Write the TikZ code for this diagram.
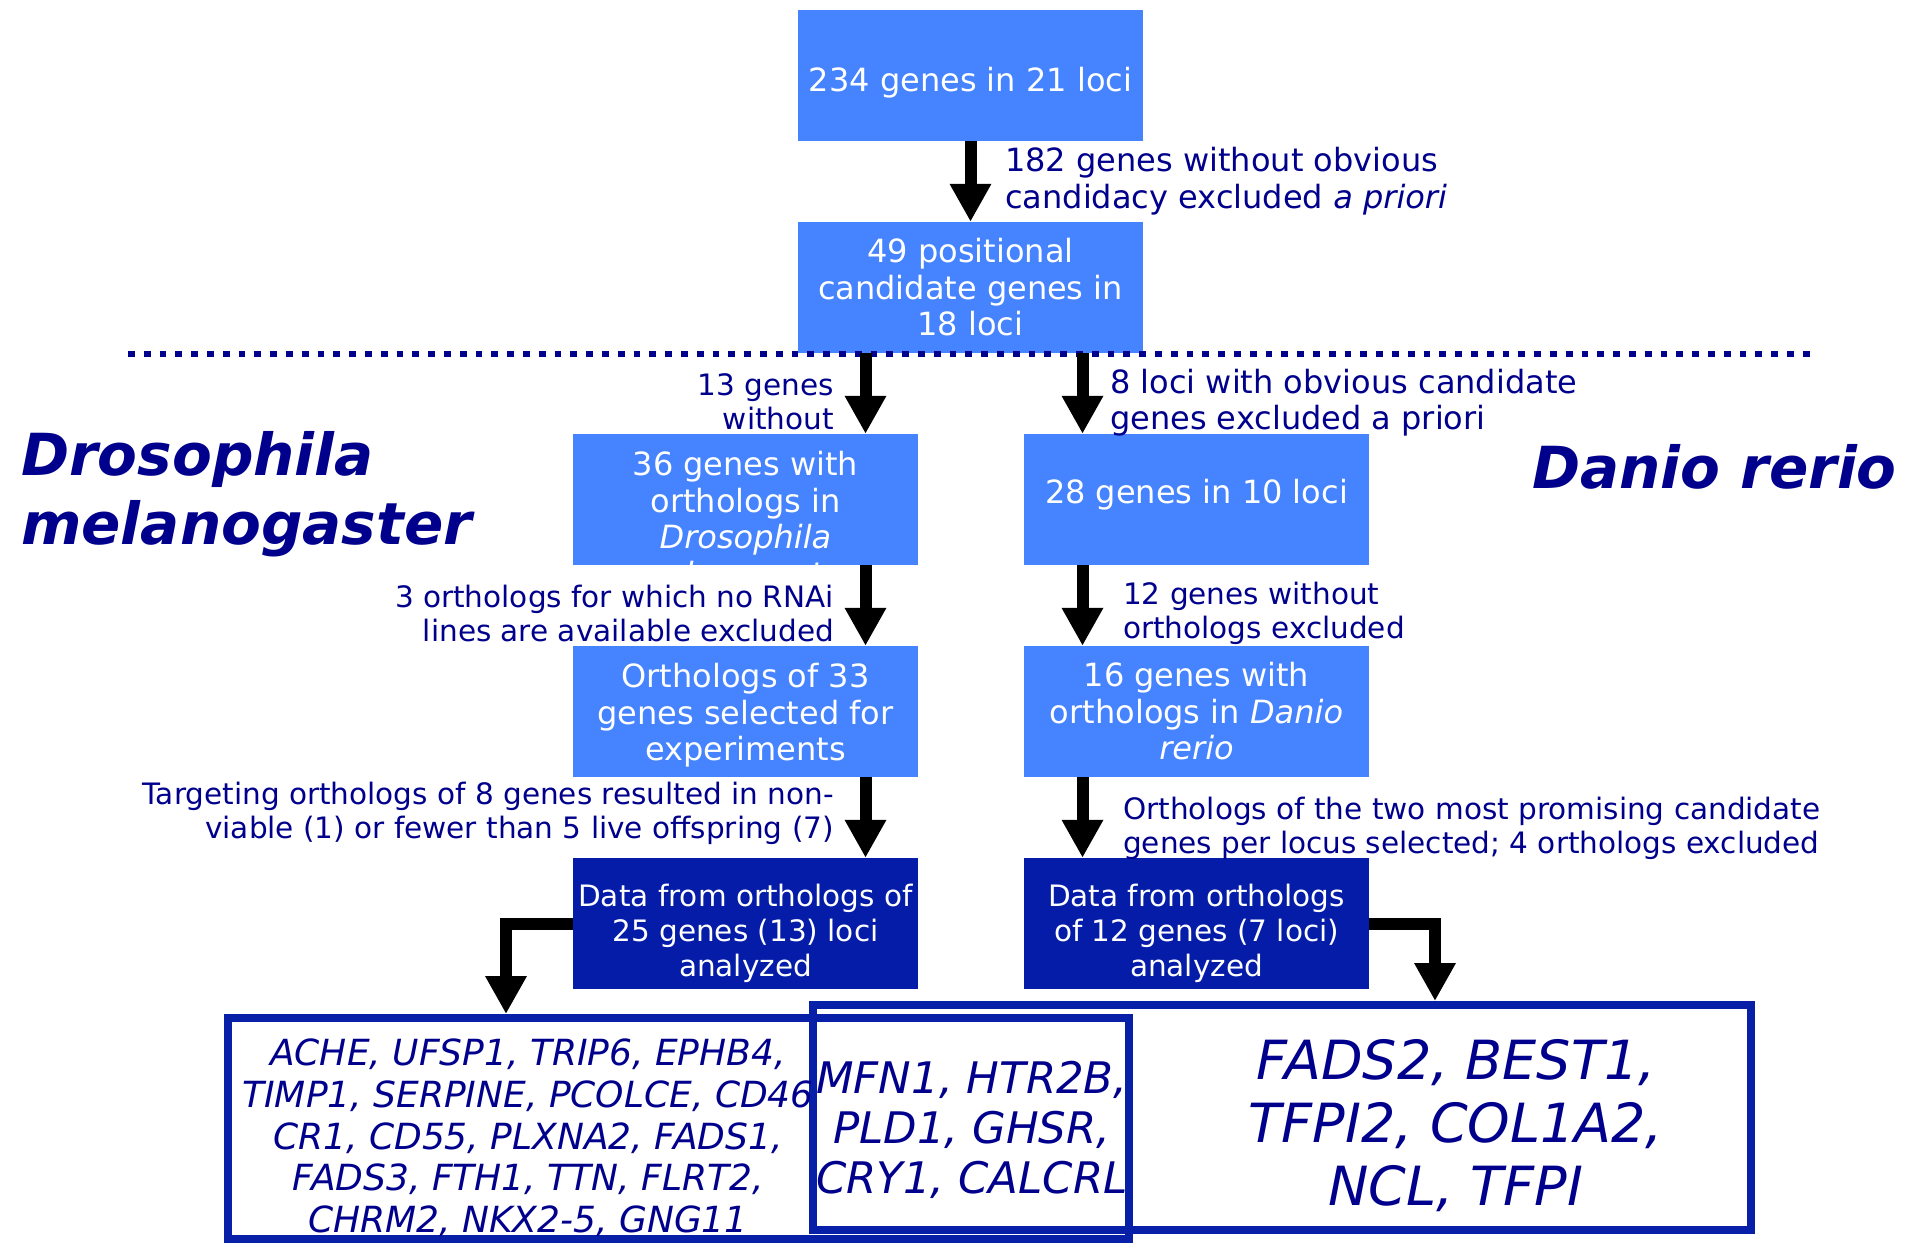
\documentclass[tikz,border=0pt]{standalone}
\usepackage{fontspec}
\setmainfont{DejaVu Sans}
\usetikzlibrary{arrows.meta}

\definecolor{boxlight}{RGB}{69,131,255}
\definecolor{boxdark}{RGB}{4,28,168}
\definecolor{ink}{RGB}{0,0,140}
\definecolor{frameblue}{RGB}{8,32,168}

\newcommand{\fsz}[2]{\fontsize{#1}{#2}\selectfont}

\begin{document}
\begin{tikzpicture}[x=1pt, y=-1pt, node distance=212pt, >={Triangle[width=39pt, length=38pt]}]
			\tikzstyle{light} = [fill=boxlight, text=white, minimum width=345pt, minimum height=131pt, inner sep=0pt, align=center, font=\fsz{32}{36.5}]
			\tikzstyle{lighttext} = [text=white, inner sep=0pt, align=center, font=\fsz{32}{36.5}]
			\tikzstyle{dark} = [light, fill=boxdark, font=\fsz{29.5}{35}]
			\tikzstyle{darktext} = [lighttext, font=\fsz{29.5}{35}]
			\tikzstyle{note} = [text=ink, inner sep=0pt, font=\fsz{29.5}{34}]
			\tikzstyle{title} = [text=ink, inner sep=0pt, align=left, font=\fsz{58}{69}\bfseries\itshape]
			\tikzstyle{genes} = [text=ink, inner sep=0pt, align=center]
			\tikzstyle{frame} = [draw=frameblue, line width=8pt]
			\tikzstyle{flow} = [->, line width=12pt]
			\useasboundingbox (0,0) rectangle (1907,1243);
			\begin{scope}
			\path
			node[light, text height=31pt, text depth=0pt] (b1) at (970.5,75.5) {234 genes in 21 loci}
			node[light, below of=b1] (b2) {49 positional\\candidate genes in\\18 loci}

			% text runs past the bottom of this box and is cut off
			node[light, below of=b2, xshift=-225pt, path picture={\node[lighttext] at ([yshift=-22pt]path picture bounding box.center) {36 genes with\\orthologs in\\\textit{Drosophila}\\\textit{melanogaster}};}] (d1) {}
			node[light, below of=d1, label={[lighttext, yshift=-4pt]center:{Orthologs of 33\\genes selected for\\experiments}}] (d2) {}
			node[dark, below of=d2, label={[darktext, yshift=-10pt]center:{Data from orthologs of\\25 genes (13) loci\\analyzed}}] (d3) {}

			node[light, below of=b2, xshift=226pt, text depth=15.5pt] (z1) {28 genes in 10 loci}
			node[light, below of=z1] (z2) {16 genes with\\orthologs in \textit{Danio}\\\textit{rerio}}
			node[dark, below of=z2, label={[darktext, yshift=-10pt]center:{Data from orthologs\\of 12 genes (7 loci)\\analyzed}}] (z3) {}

			node[title, anchor=west] (dm) at (21,494.5) {Drosophila\\melanogaster}
			node[title, anchor=east] (dr) at (1897,467) {Danio rerio}

			node[note, anchor=west, align=left, font=\fsz{32}{36.5}] (n1) at (1005,181) {182 genes without obvious\\candidacy excluded \textit{a priori}}
			node[note, anchor=east, align=right] (n2) at (834,401.5) {13 genes\\without}
			node[note, anchor=west, align=left, font=\fsz{32}{36.5}] (n3) at (1110,402.5) {8 loci with obvious candidate\\genes excluded a priori}
			node[note, anchor=east, align=right] (n4) at (834,613) {3 orthologs for which no RNAi\\lines are available excluded}
			node[note, anchor=west, align=left] (n5) at (1123,613) {12 genes without\\orthologs excluded}
			node[note, anchor=east, align=right] (n6) at (834,813) {Targeting orthologs of 8 genes resulted in non-\\viable (1) or fewer than 5 live offspring (7)}
			node[note, anchor=west, align=left] (n7) at (1123,828.5) {Orthologs of the two most promising candidate\\genes per locus selected; 4 orthologs excluded}

			node[frame, minimum width=901pt, minimum height=221pt] (genesA) at (678.5,1128.5) {}
			node[frame, minimum width=938pt, minimum height=225pt] (genesB) at (1282,1117.5) {}
			node[genes, font=\fsz{36}{41.7}\itshape] (listA) at (528,1138) {ACHE, UFSP1, TRIP6, EPHB4,\\TIMP1, SERPINE, PCOLCE, CD46\\CR1, CD55, PLXNA2, FADS1,\\FADS3, FTH1, TTN, FLRT2,\\CHRM2, NKX2-5, GNG11}
			node[genes, font=\fsz{43.5}{50}\itshape] (listAB) at (972,1130) {MFN1, HTR2B,\\PLD1, GHSR,\\CRY1, CALCRL}
			node[genes, font=\fsz{54}{63}\itshape] (listB) at (1456,1125.5) {FADS2, BEST1,\\TFPI2, COL1A2,\\NCL, TFPI}
			;
			\draw[ink, line width=6.7pt, dash pattern=on 6.7pt off 9.1pt] (128,354) -- (1815,354);

			\path[flow]
			(b1) edge (b2)
			([xshift=-105pt]b2.south) edge ([xshift=120pt]d1.north)
			([xshift=120pt]d1.south) edge ([xshift=120pt]d2.north)
			([xshift=120pt]d2.south) edge ([xshift=120pt]d3.north)
			([xshift=112pt]b2.south) edge ([xshift=-114pt]z1.north)
			([xshift=-114pt]z1.south) edge ([xshift=-114pt]z2.north)
			([xshift=-114pt]z2.south) edge ([xshift=-114pt]z3.north)
			;
			\draw[flow] (d3.west) -| ([xshift=-172.5pt]genesA.north);
			\draw[flow] (z3.east) -| ([xshift=153pt]genesB.north);
			\end{scope}

			\end{tikzpicture}
\end{document}
